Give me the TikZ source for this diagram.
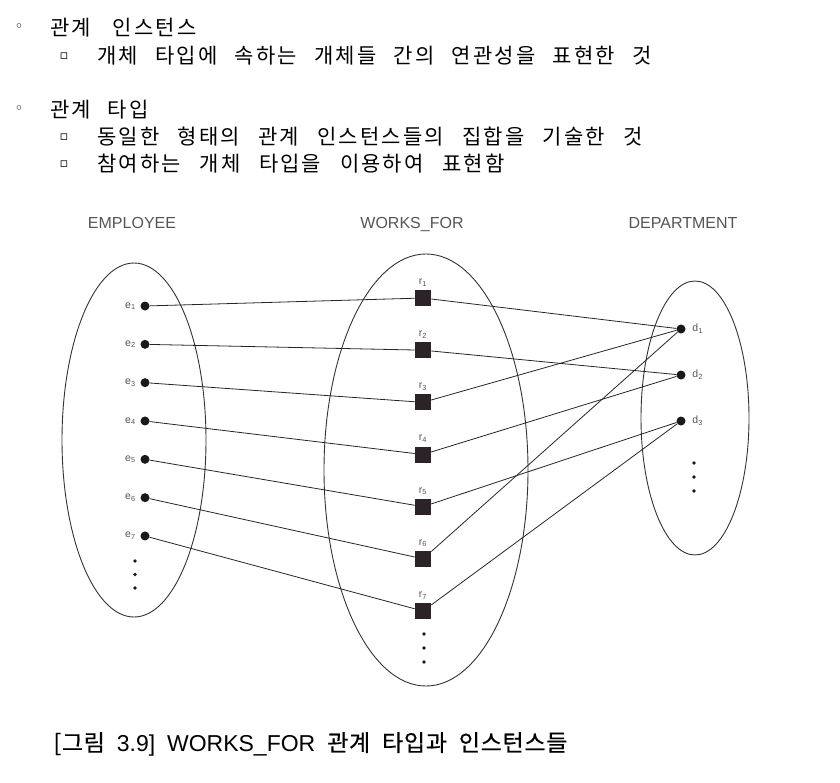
\documentclass[tikz,border=0pt]{standalone}
\usepackage{fontspec}
\setmainfont{Liberation Sans}
\newfontfamily\krtext[LetterSpace=10]{Noto Sans CJK KR}
\newfontfamily\krcap[LetterSpace=3,FakeBold=0.6]{Noto Sans CJK KR}
\newfontfamily\symfont{DejaVu Sans}
\usetikzlibrary{positioning}
\definecolor{labelgray}{HTML}{555555}
\definecolor{boxfill}{HTML}{2B2328}
\newcommand{\fitto}[2]{\hbox to #1{\spaceskip=4pt plus 1fil\relax#2}}
\tikzstyle{every node}=[inner sep=0pt]
\tikzstyle{every path}=[line width=0.9pt,line cap=round,line join=round]
\tikzstyle{setline}=[draw=black!80,line width=0.9pt]
\tikzstyle{link}=[draw=black!85,line width=0.8pt]
\tikzstyle{entdot}=[circle,fill=black!90,minimum size=9pt]
\tikzstyle{relbox}=[rectangle,fill=boxfill,minimum size=16pt]
\tikzstyle{moredot}=[circle,fill=black!90,minimum size=3.8pt]
\tikzstyle{sublabel}=[font=\fontsize{10.5}{12}\selectfont,text=labelgray]
\tikzstyle{setname}=[anchor=base,font=\fontsize{16}{19}\selectfont,text=labelgray]
\tikzstyle{bodytext}=[anchor=west,font=\krtext\fontsize{21}{25}\selectfont]
\tikzstyle{ringbullet}=[font=\symfont\fontsize{15}{18}\selectfont]
\tikzstyle{boxbullet}=[font=\symfont\fontsize{13}{15}\selectfont]

\begin{document}
\begin{tikzpicture}[x=1pt,y=-1pt]
    \useasboundingbox (0,0) rectangle (840,782);

    % Bullet text above the diagram
    \node[ringbullet] (b1) at (19,28) {◦};
    \node[bodytext] (t1) at (50,28) {\fitto{146pt}{관계 인스턴스}};
    \node[boxbullet] (b2) at (64,56) {▫};
    \node[bodytext] (t2) at (97,56) {\fitto{554pt}{개체 타입에 속하는 개체들 간의 연관성을 표현한 것}};
    \node[ringbullet] (b3) at (19,110) {◦};
    \node[bodytext] (t3) at (50,110) {\fitto{98pt}{관계 타입}};
    \node[boxbullet] (b4) at (64,137) {▫};
    \node[bodytext] (t4) at (97,137) {\fitto{545pt}{동일한 형태의 관계 인스턴스들의 집합을 기술한 것}};
    \node[boxbullet] (b5) at (64,164) {▫};
    \node[bodytext] (t5) at (97,164) {\fitto{407pt}{참여하는 개체 타입을 이용하여 표현함}};

    % Set names and set outlines
    \node[setname] (empname) at (132,228) {EMPLOYEE};
    \node[setname] (worksname) at (412,228) {WORKS\_FOR};
    \node[setname] (deptname) at (683,228) {DEPARTMENT};
    \draw[setline] (134,440) ellipse [x radius=72, y radius=177];
    \draw[setline] (426,470) ellipse [x radius=102, y radius=216];
    \draw[setline] (695,418) ellipse [x radius=54, y radius=137];

    % EMPLOYEE entities
    \path (145,306) node[entdot] (e1) {}
    ++(0,38.33) node[entdot] (e2) {}
    ++(0,38.33) node[entdot] (e3) {}
    ++(0,38.33) node[entdot] (e4) {}
    ++(0,38.33) node[entdot] (e5) {}
    ++(0,38.33) node[entdot] (e6) {}
    ++(0,38.33) node[entdot] (e7) {}
    (135,561) node[moredot] (emore1) {}
    ++(0,13.5) node[moredot] (emore2) {}
    ++(0,13.5) node[moredot] (emore3) {};
    \node[sublabel,left=4pt of e1] (le1) {e\textsubscript{1}};
    \node[sublabel,left=4pt of e2] (le2) {e\textsubscript{2}};
    \node[sublabel,left=4pt of e3] (le3) {e\textsubscript{3}};
    \node[sublabel,left=4pt of e4] (le4) {e\textsubscript{4}};
    \node[sublabel,left=4pt of e5] (le5) {e\textsubscript{5}};
    \node[sublabel,left=4pt of e6] (le6) {e\textsubscript{6}};
    \node[sublabel,left=4pt of e7] (le7) {e\textsubscript{7}};

    % WORKS_FOR relationship instances
    \path (423,298) node[relbox] (r1) {}
    ++(0,52.17) node[relbox] (r2) {}
    ++(0,52.17) node[relbox] (r3) {}
    ++(0,52.17) node[relbox] (r4) {}
    ++(0,52.17) node[relbox] (r5) {}
    ++(0,52.17) node[relbox] (r6) {}
    ++(0,52.17) node[relbox] (r7) {}
    (424,634) node[moredot] (rmore1) {}
    ++(0,14) node[moredot] (rmore2) {}
    ++(0,14) node[moredot] (rmore3) {};
    \node[sublabel,above=3pt of r1] (lr1) {r\textsubscript{1}};
    \node[sublabel,above=3pt of r2] (lr2) {r\textsubscript{2}};
    \node[sublabel,above=3pt of r3] (lr3) {r\textsubscript{3}};
    \node[sublabel,above=3pt of r4] (lr4) {r\textsubscript{4}};
    \node[sublabel,above=3pt of r5] (lr5) {r\textsubscript{5}};
    \node[sublabel,above=3pt of r6] (lr6) {r\textsubscript{6}};
    \node[sublabel,above=3pt of r7] (lr7) {r\textsubscript{7}};

    % DEPARTMENT entities
    \path (681,329) node[entdot] (d1) {}
    ++(0,46) node[entdot] (d2) {}
    ++(0,46) node[entdot] (d3) {}
    (694,463) node[moredot] (dmore1) {}
    ++(0,14) node[moredot] (dmore2) {}
    ++(0,14) node[moredot] (dmore3) {};
    \node[sublabel,right=6pt of d1] (ld1) {d\textsubscript{1}};
    \node[sublabel,right=6pt of d2] (ld2) {d\textsubscript{2}};
    \node[sublabel,right=6pt of d3] (ld3) {d\textsubscript{3}};

    % Instance links
    \draw[link] (e1) -- (r1) -- (d1);
    \draw[link] (e2) -- (r2) -- (d2);
    \draw[link] (e3) -- (r3) -- (d1);
    \draw[link] (e4) -- (r4) -- (d2);
    \draw[link] (e5) -- (r5) -- (d3);
    \draw[link] (e6) -- (r6) -- (d1);
    \draw[link] (e7) -- (r7) -- (d3);

    % Caption
    \node[anchor=west,font=\fontsize{23}{26}\selectfont] (caption) at (53,744)
      {\fitto{514pt}{{\krcap\fontsize{23}{26}\selectfont [그림} 3.9] WORKS\_FOR {\krcap\fontsize{23}{26}\selectfont 관계 타입과 인스턴스들}}};
\end{tikzpicture}
\end{document}
